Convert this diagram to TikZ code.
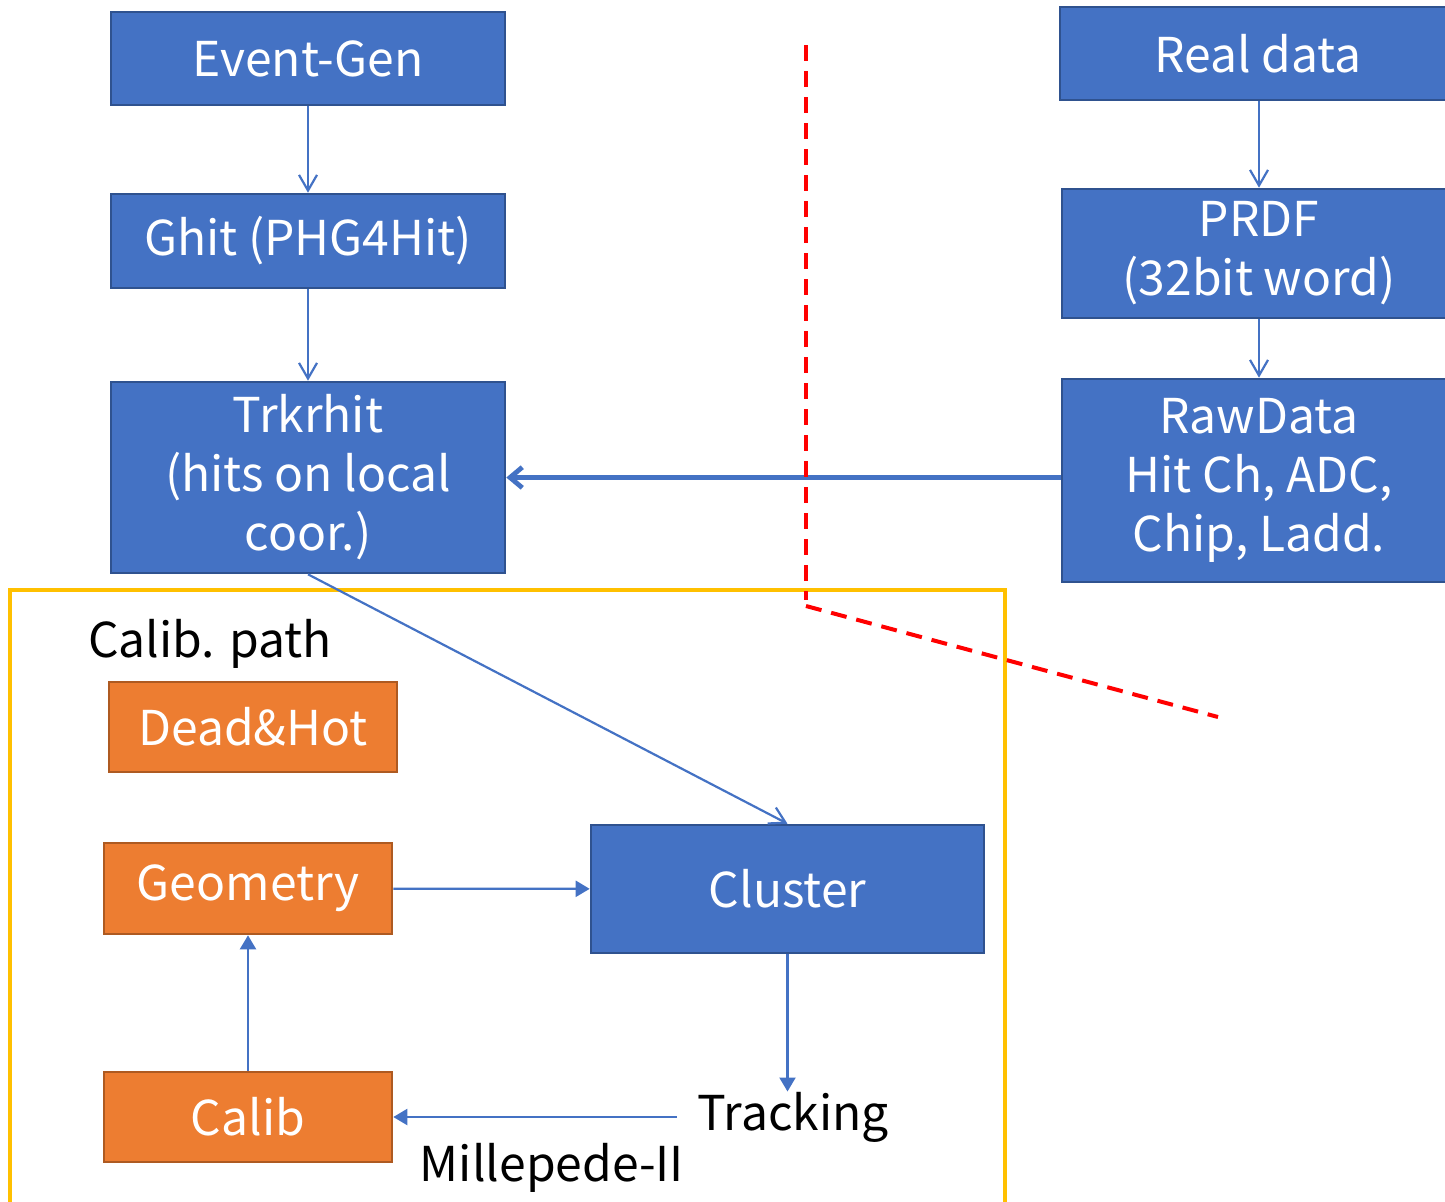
\documentclass[tikz,border=0pt]{standalone}
\usepackage{fontspec}
\setmainfont{Noto Sans CJK JP}
\usetikzlibrary{arrows.meta}
\definecolor{boxblue}{HTML}{4472C4}
\definecolor{boxblueedge}{HTML}{2F528F}
\definecolor{boxorange}{HTML}{ED7D31}
\definecolor{boxorangeedge}{HTML}{AE5A21}
\definecolor{calibframe}{HTML}{FFC000}

\begin{document}
\begin{tikzpicture}[x=0.5pt,y=-0.5pt,
  bluebox/.style={draw=boxblueedge, line width=1.3pt, fill=boxblue, text=white, inner sep=0pt, align=center, font=\fontsize{24}{29.5}\selectfont},
  orangebox/.style={draw=boxorangeedge, line width=1.3pt, fill=boxorange, text=white, inner sep=0pt, align=center, font=\fontsize{24}{29.5}\selectfont},
  plainlabel/.style={inner sep=0pt, font=\fontsize{24}{29.5}\selectfont},
  thinarrow/.style={draw=boxblue, line width=1.1pt, -{Straight Barb[angle=60:9pt]}},
  fillarrow/.style={draw=boxblue, line width=1.1pt, -{Triangle[length=7pt,width=8pt]}},
  fatarrow/.style={draw=boxblue, line width=2.4pt, -{Straight Barb[angle=80:8pt]}},
  divider/.style={draw=red, line width=2pt, dash pattern=on 8pt off 5pt}]
\useasboundingbox (0,0) rectangle (1445,1201);

% calibration frame
\draw[calibframe, line width=2pt] (10,1230) -- (10,590) -- (1005,590) -- (1005,1230);

% simulation chain
\node[bluebox, minimum width=197pt, minimum height=46.5pt] (evgen) at (308,58.5) {Event-Gen};
\node[bluebox, minimum width=197pt, minimum height=47pt] (ghit) at (308,241) {Ghit (PHG4Hit)};
\node[bluebox, minimum width=197pt, minimum height=95.5pt] (trk) at (308,477.5) {Trkrhit\\(hits on local\\coor.)};

% real data chain
\node[bluebox, minimum width=198pt, minimum height=46.5pt] (real) at (1258,53.5) {Real data};
\node[bluebox, minimum width=197pt, minimum height=64.5pt] (prdf) at (1259,253.5) {PRDF\\(32bit word)};
\node[bluebox, minimum width=197pt, minimum height=101.5pt] (raw) at (1259,480.5) {RawData\\Hit Ch, ADC,\\Chip, Ladd.};

% calibration path
\node[plainlabel] (calpath) at (210,644) {Calib. path};
\node[orangebox, minimum width=144pt, minimum height=45pt] (dead) at (253,727) {Dead\&Hot};
\node[orangebox, minimum width=144pt, minimum height=45.5pt] (geom) at (248,888.5) {Geometry};
\node[orangebox, minimum width=144pt, minimum height=45pt] (calib) at (248,1117) {Calib};
\node[bluebox, minimum width=196.5pt, minimum height=64pt] (clus) at (787.5,889) {Cluster};
\node[plainlabel] (track) at (793,1117) {Tracking};
\node[plainlabel] (mille) at (552,1168) {Millepede-II};

\draw[thinarrow] (evgen) -- (ghit);
\draw[thinarrow] (ghit) -- (trk);
\draw[thinarrow] (prdf.north |- real.south) -- (prdf.north);
\draw[thinarrow] (prdf) -- (raw);
\draw[fatarrow] (raw.west |- trk.east) -- (trk.east);
\draw[thinarrow] (trk.south) -- (clus.north);
\draw[fillarrow] (geom) -- (clus);
\draw[fillarrow] (calib) -- (geom);
\draw[fillarrow] (clus) -- (clus.south |- track.north);
\draw[fillarrow] ([xshift=-10pt]track.west) -- (calib.east);

% sim / data boundary
\coordinate (cut) at (806,606);
\draw[divider] (806,45) -- (806,600);
\draw[divider] (cut) -- (1218,717);
\end{tikzpicture}
\end{document}
